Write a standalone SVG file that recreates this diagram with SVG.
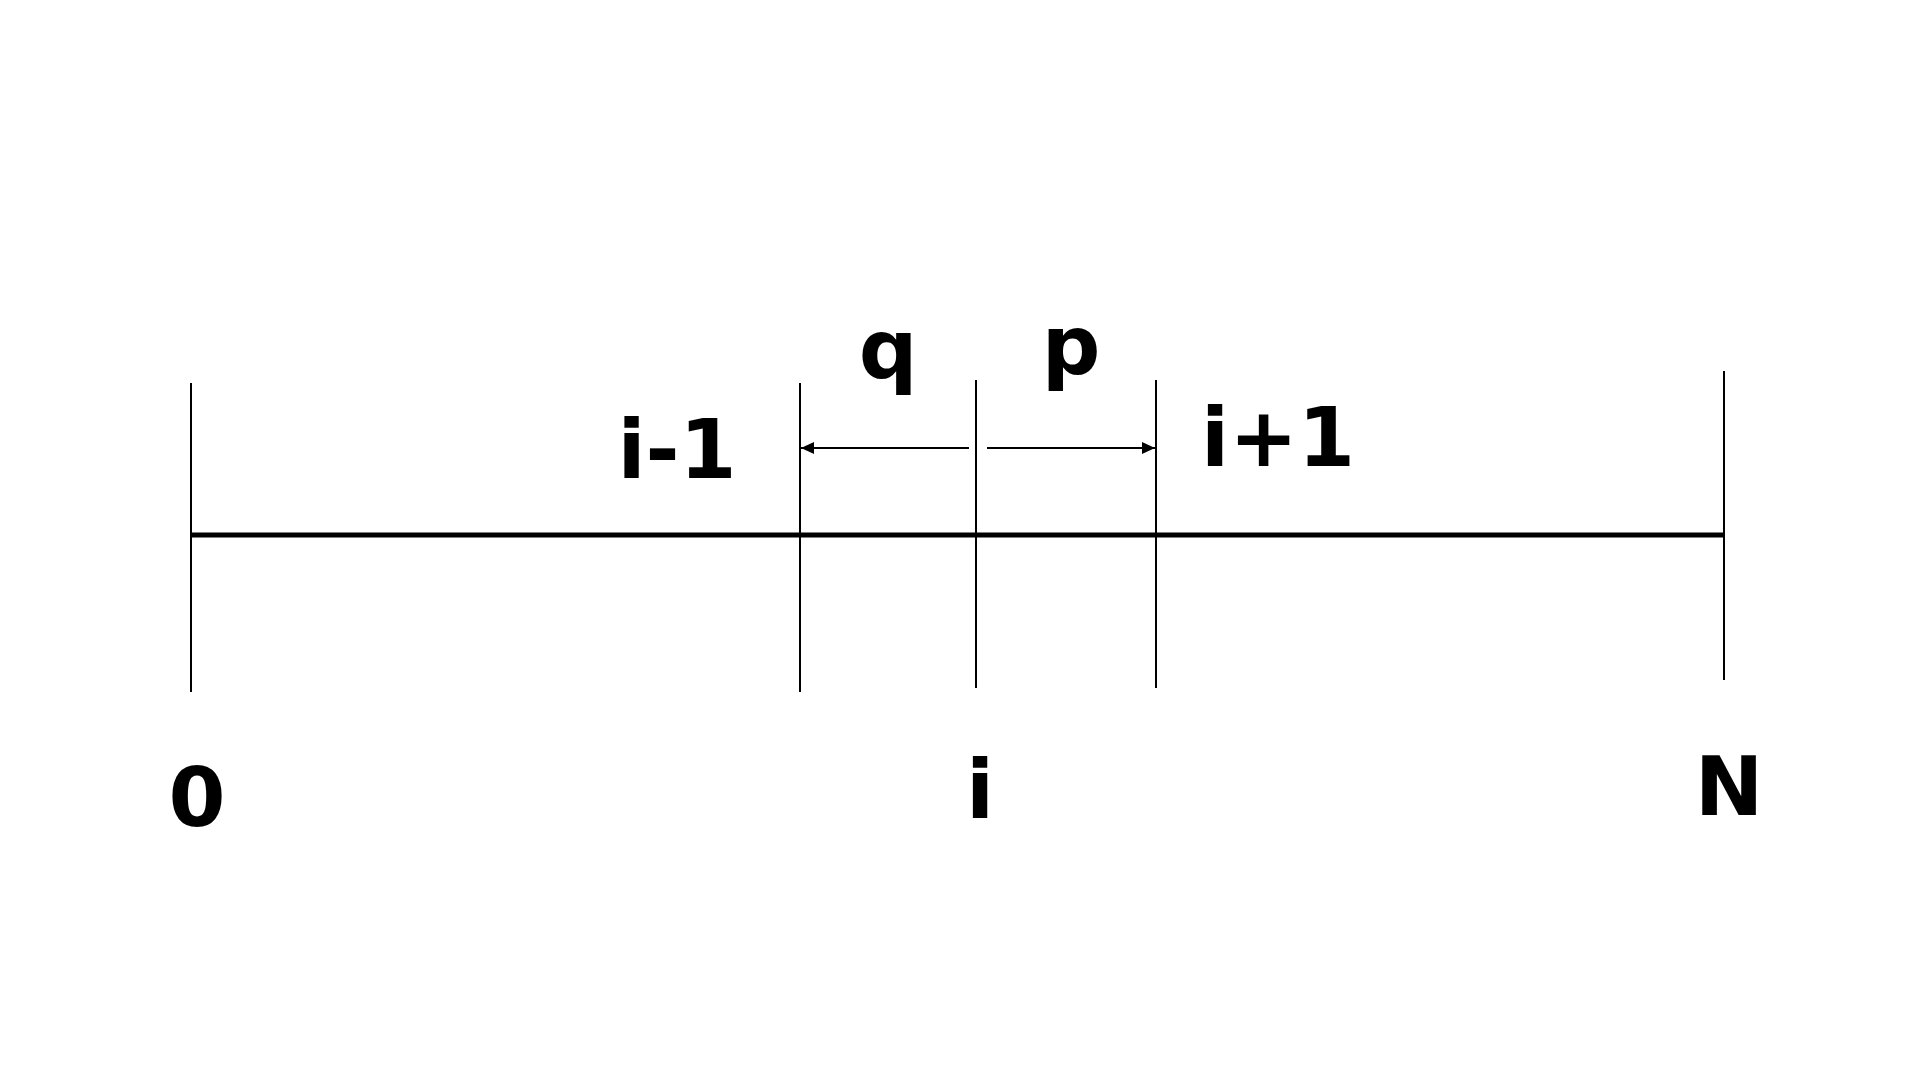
<svg xmlns="http://www.w3.org/2000/svg" width="1920" height="1080" viewBox="0 0 1920 1080">
<defs>
<marker id="ah" viewBox="0 0 13 12" refX="13" refY="6" markerWidth="6.5" markerHeight="6" orient="auto-start-reverse" markerUnits="strokeWidth">
<path d="M0,0 L13,6 L0,12 Z" fill="#000"/>
</marker>
<style>
.lbl{font-family:"DejaVu Sans","Liberation Sans",sans-serif;font-weight:bold;font-size:82px;fill:#000;text-anchor:middle}
.tick{stroke:#000;stroke-width:2;fill:none}
.axis{stroke:#000;stroke-width:5;fill:none}
.arr{stroke:#000;stroke-width:2;fill:none}
</style>
</defs>
<rect width="1920" height="1080" fill="#fff"/>
<g id="connectors">
<line class="axis" x1="191" y1="535" x2="1724" y2="535"/>
<line class="arr" x1="969" y1="448" x2="801" y2="448" marker-end="url(#ah)"/>
<line class="arr" x1="987" y1="448" x2="1155" y2="448" marker-end="url(#ah)"/>
</g>
<g id="tick-0"><line class="tick" x1="191" y1="383" x2="191" y2="692"/><text class="lbl" x="197" y="826">0</text></g>
<g id="tick-im1"><line class="tick" x1="800" y1="383" x2="800" y2="692"/><text class="lbl" x="677" y="478">i-1</text></g>
<g id="tick-i"><line class="tick" x1="976" y1="380" x2="976" y2="688"/><text class="lbl" x="980" y="818">i</text></g>
<g id="tick-ip1"><line class="tick" x1="1156" y1="380" x2="1156" y2="688"/><text class="lbl" x="1278" y="466">i+1</text></g>
<g id="tick-N"><line class="tick" x1="1724" y1="371" x2="1724" y2="680"/><text class="lbl" x="1729" y="815">N</text></g>
<g id="label-q"><text class="lbl" x="888" y="378">q</text></g>
<g id="label-p"><text class="lbl" x="1071" y="374">p</text></g>
</svg>
